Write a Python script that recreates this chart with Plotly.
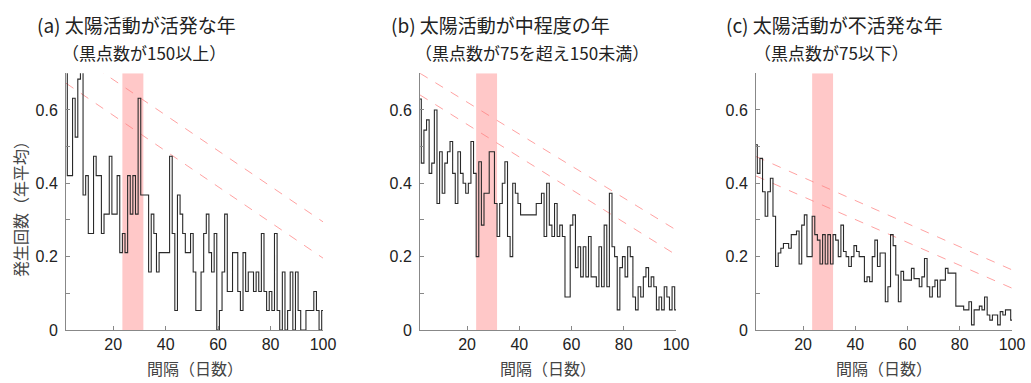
import plotly.graph_objects as go

# ---------------- data ----------------
DAYS = list(range(2, 101))   # bins centred on each day

# (a) active years (sunspot number >= 150)
ACTIVE = [0.737, 0.421, 0.421, 0.632, 0.526, 0.684, 0.737, 0.368, 0.421, 0.263,
          0.263, 0.474, 0.421, 0.421, 0.263, 0.316, 0.316, 0.474, 0.316, 0.316,
          0.421, 0.211, 0.263, 0.211, 0.421, 0.316, 0.421, 0.316, 0.632, 0.368,
          0.368, 0.368, 0.158, 0.316, 0.263, 0.158, 0.211, 0.211, 0.211, 0.211,
          0.474, 0.263, 0.053, 0.368, 0.316, 0.263, 0.211, 0.211, 0.263, 0.158,
          0.053, 0.053, 0.158, 0.263, 0.316, 0.211, 0.158, 0.263, 0.000, 0.053,
          0.158, 0.316, 0.105, 0.105, 0.211, 0.211, 0.105, 0.053, 0.211, 0.105,
          0.158, 0.158, 0.105, 0.158, 0.105, 0.263, 0.105, 0.053, 0.105, 0.053,
          0.263, 0.053, 0.000, 0.158, 0.000, 0.053, 0.158, 0.000, 0.158, 0.053,
          0.000, 0.000, 0.053, 0.053, 0.053, 0.105, 0.053, 0.000, 0.053]

# (b) moderate years (75 < sunspot number < 150)
MODERATE = [0.630, 0.455, 0.545, 0.573, 0.427, 0.455, 0.600, 0.345, 0.486, 0.373,
            0.455, 0.486, 0.514, 0.427, 0.345, 0.486, 0.427, 0.400, 0.373, 0.400,
            0.514, 0.427, 0.200, 0.459, 0.286, 0.373, 0.373, 0.486, 0.486, 0.345,
            0.255, 0.345, 0.400, 0.459, 0.255, 0.200, 0.400, 0.373, 0.345, 0.314,
            0.314, 0.314, 0.314, 0.314, 0.314, 0.345, 0.345, 0.373, 0.255, 0.400,
            0.286, 0.255, 0.345, 0.255, 0.286, 0.255, 0.090, 0.090, 0.286, 0.314,
            0.170, 0.227, 0.145, 0.227, 0.145, 0.255, 0.145, 0.145, 0.118, 0.227,
            0.118, 0.286, 0.118, 0.373, 0.227, 0.200, 0.055, 0.170, 0.200, 0.145,
            0.227, 0.200, 0.090, 0.055, 0.118, 0.090, 0.145, 0.170, 0.118, 0.145,
            0.118, 0.055, 0.090, 0.055, 0.118, 0.090, 0.055, 0.118, 0.055]

# (c) quiet years (sunspot number <= 75)
QUIET = [0.505, 0.427, 0.468, 0.377, 0.310, 0.377, 0.414, 0.310, 0.173, 0.210,
         0.223, 0.236, 0.236, 0.223, 0.260, 0.260, 0.270, 0.180, 0.286, 0.314,
         0.200, 0.200, 0.310, 0.260, 0.245, 0.180, 0.260, 0.180, 0.260, 0.180,
         0.260, 0.245, 0.200, 0.286, 0.214, 0.200, 0.173, 0.200, 0.230, 0.214,
         0.200, 0.200, 0.132, 0.145, 0.132, 0.200, 0.245, 0.173, 0.210, 0.210,
         0.077, 0.118, 0.260, 0.230, 0.150, 0.077, 0.160, 0.136, 0.136, 0.136,
         0.168, 0.140, 0.140, 0.118, 0.145, 0.195, 0.118, 0.090, 0.118, 0.136,
         0.090, 0.136, 0.136, 0.168, 0.155, 0.155, 0.155, 0.065, 0.065, 0.065,
         0.055, 0.055, 0.077, 0.014, 0.055, 0.055, 0.065, 0.055, 0.090, 0.041,
         0.027, 0.041, 0.041, 0.014, 0.050, 0.041, 0.055, 0.055, 0.027]

# dashed reference lines: x at start/end and values
LINE_X = [2, 100]
A_UPPER = [0.770, 0.295]
A_LOWER = [0.673, 0.196]
B_UPPER = [0.700, 0.273]
B_LOWER = [0.641, 0.205]
C_UPPER = [0.473, 0.164]
C_LOWER = [0.420, 0.114]

BAND = [23.5, 31.5]

TITLES = ["(a) 太陽活動が活発な年", "(b) 太陽活動が中程度の年", "(c) 太陽活動が不活発な年"]
SUBTITLES = ["（黒点数が150以上）", "（黒点数が75を超え150未満）", "（黒点数が75以下）"]
XTITLE = "間隔（日数）"
YTITLE = "発生回数（年平均）"

XTICKS = [20, 40, 60, 80, 100]
YTICKS = [0, 0.1, 0.2, 0.3, 0.4, 0.5, 0.6, 0.7]
YTICKTEXT = ["0", "", "0.2", "", "0.4", "", "0.6", ""]

# ---------------- figure ----------------
W, H = 1031, 383
FONT = "Liberation Sans, Noto Sans CJK JP, sans-serif"
JFONT = "Noto Sans CJK JP, sans-serif"

panels = [
    (ACTIVE, A_UPPER, A_LOWER, (66, 323), 35, 60),
    (MODERATE, B_UPPER, B_LOWER, (420, 676), 389, 413),
    (QUIET, C_UPPER, C_LOWER, (756, 1012), 724, 752),
]
ytop, ybot = 73.3, 330.0
ydom = [1 - ybot / H, 1 - ytop / H]

fig = go.Figure()
annotations = []
shapes = []

for i, (vals, up, lo, (px0, px1), tx, sx) in enumerate(panels):
    n = "" if i == 0 else str(i + 1)
    xa, ya = "x" + n, "y" + n
    edges = [d - 0.5 for d in DAYS] + [DAYS[-1] + 0.5]
    ys = vals + [vals[-1]]
    for ln in (up, lo):
        fig.add_trace(go.Scatter(x=LINE_X, y=ln, xaxis=xa, yaxis=ya, mode="lines",
                                 line=dict(color="rgba(255,130,130,0.75)", width=1, dash="dash"),
                                 showlegend=False, hoverinfo="skip"))
    fig.add_trace(go.Scatter(x=edges, y=ys, xaxis=xa, yaxis=ya, mode="lines",
                             line=dict(color="#2a2a2a", width=1.1, shape="hv"),
                             showlegend=False))
    shapes.append(dict(type="rect", xref=xa, yref=ya, x0=BAND[0], x1=BAND[1],
                       y0=0, y1=0.7, fillcolor="rgb(255,200,200)", line_width=0,
                       layer="below"))
    fig.layout["xaxis" + n] = dict(
        domain=[px0 / W, px1 / W], range=[2, 100], anchor=ya, automargin=False,
        tickvals=XTICKS, ticks="inside", ticklen=4, tickcolor="#888",
        showline=True, linecolor="#888", linewidth=1, showgrid=False, zeroline=False,
        tickfont=dict(family=FONT, size=16, color="#222"), fixedrange=True)
    fig.layout["yaxis" + n] = dict(
        domain=ydom, range=[0, 0.7], anchor=xa, automargin=False,
        tickvals=YTICKS, ticktext=YTICKTEXT, ticks="inside", ticklen=4, tickcolor="#888",
        showline=True, linecolor="#888", linewidth=1, showgrid=False, zeroline=False,
        tickfont=dict(family=FONT, size=16, color="#222"), ticklabelstandoff=4,
        fixedrange=True)
    annotations.append(dict(text=TITLES[i], x=tx / W, y=1 - 25 / H, xref="paper", yref="paper",
                            xanchor="left", yanchor="middle", showarrow=False,
                            font=dict(family=JFONT, size=19, color="#222")))
    annotations.append(dict(text=SUBTITLES[i], x=sx / W, y=1 - 52 / H, xref="paper", yref="paper",
                            xanchor="left", yanchor="middle", showarrow=False,
                            font=dict(family=JFONT, size=17, color="#222")))
    annotations.append(dict(text=XTITLE, x=(px0 + px1) / 2 / W, y=1 - 368 / H, xref="paper",
                            yref="paper", xanchor="center", yanchor="middle", showarrow=False,
                            font=dict(family=JFONT, size=16, color="#444")))

annotations.append(dict(text=YTITLE, x=20 / W, y=1 - 205 / H, xref="paper", yref="paper",
                        xanchor="center", yanchor="middle", showarrow=False, textangle=-90,
                        font=dict(family=JFONT, size=16, color="#444")))

fig.update_layout(width=W, height=H, margin=dict(l=0, r=0, t=0, b=0),
                  paper_bgcolor="white", plot_bgcolor="white",
                  annotations=annotations, shapes=shapes, showlegend=False)

fig.write_html("out.html", config={"displayModeBar": False},
               post_script="document.body.style.margin='0px';document.body.style.overflow='hidden';")
